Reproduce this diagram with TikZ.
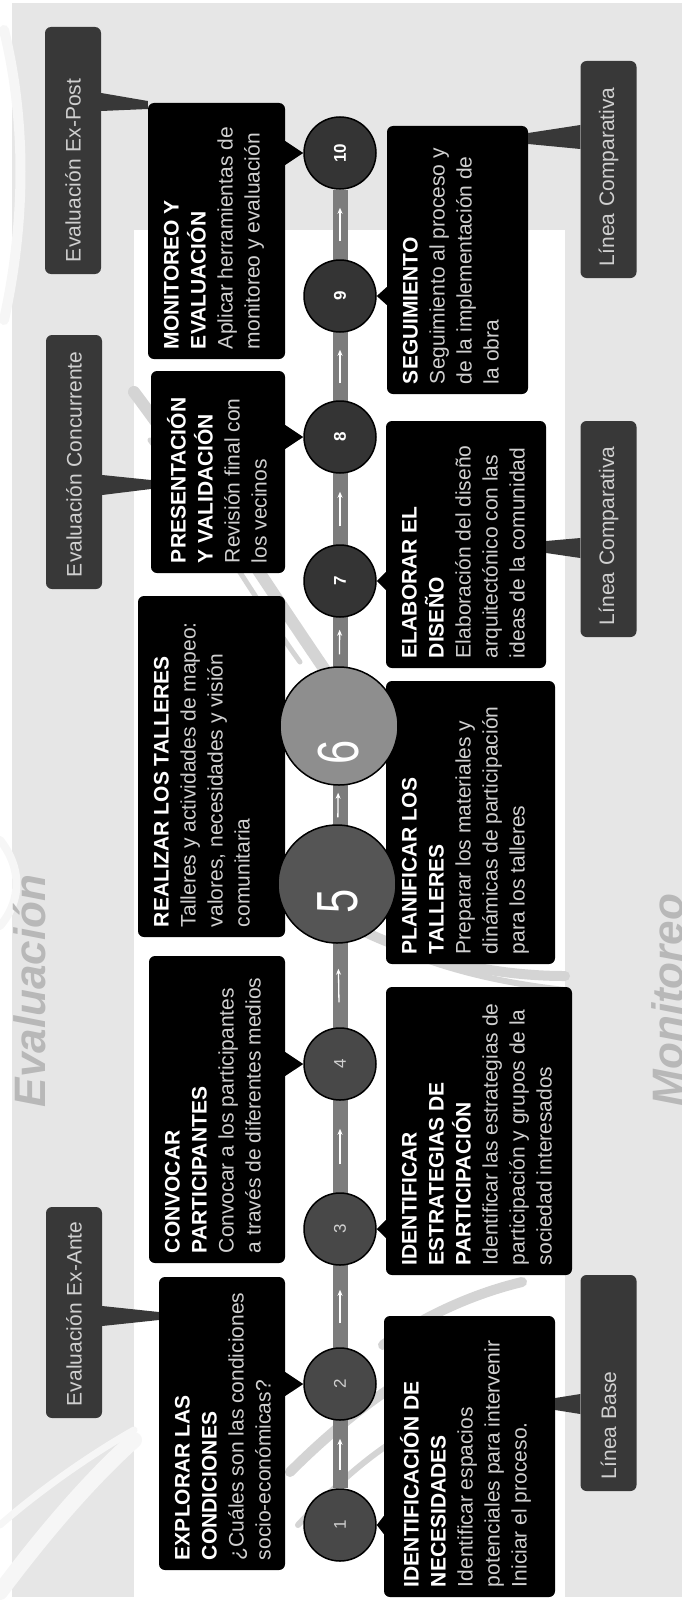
\documentclass[tikz,border=0pt]{standalone}
\usepackage{fontspec}
\setmainfont{Liberation Sans}
\usetikzlibrary{arrows.meta, calc}
\pgfdeclarelayer{back}
\pgfsetlayers{back,main}

\definecolor{bggray}{HTML}{E6E6E6}
\definecolor{labelgray}{HTML}{383838}
\definecolor{labeltext}{HTML}{D0D0D0}
\definecolor{bodytext}{HTML}{D0D0D0}
\definecolor{dotdark}{HTML}{343434}
\definecolor{dotgray}{HTML}{484848}
\definecolor{fivegray}{HTML}{555555}
\definecolor{sixgray}{HTML}{8E8E8E}
\definecolor{bargray}{HTML}{7C7C7C}
\definecolor{markgray}{HTML}{B8B8B8}
\definecolor{swirlgray}{HTML}{D4D4D4}
\definecolor{swirlwhite}{HTML}{F6F6F6}

\begin{document}
\begin{tikzpicture}[x=1pt, y=-1pt,
    stepbox/.style={rotate=90, fill=black, rounded corners=6pt, inner xsep=10pt, inner ysep=16pt, text=white, font=\fontsize{21}{27}\selectfont},
    labelbox/.style={rotate=90, fill=labelgray, rounded corners=6pt, text=labeltext, minimum height=56pt, inner xsep=12pt, inner ysep=0pt, align=left, font=\fontsize{21}{25}\selectfont},
    stepdot/.style={circle, draw=black, line width=1.5pt, fill=dotdark, minimum size=72pt, inner sep=0pt, rotate=90, text=white, font=\fontsize{17}{17}\selectfont\bfseries},
    firstdot/.style={stepdot, fill=dotgray, text=labeltext, font=\fontsize{17}{17}\selectfont},
    bigdot/.style={stepdot, minimum size=118pt},
    bignum/.style={rotate=90, xscale=0.75, text=white, inner sep=0pt, font=\fontsize{58}{58}\selectfont},
    link/.style={fill=labelgray},
    pointer/.style={fill=black},
    timeline/.style={draw=bargray, line width=15pt},
    flow/.style={draw=white, line width=1.3pt, -{Stealth[length=6pt, width=5pt]}},
    watermark/.style={rotate=90, text=markgray, inner sep=0pt, font=\fontsize{44}{44}\selectfont\bfseries\itshape},
    swirl/.style={draw=swirlgray, line cap=round},
    paleswirl/.style={draw=swirlwhite, line cap=round}]

  \useasboundingbox (0,0) rectangle (682,1600);

  \begin{pgfonlayer}{back}
    \fill[bggray] (12,3) rectangle (682,1597);
    \fill[white] (134,230) rectangle (565,1597);
    % brush strokes of the logo
    \draw[paleswirl, line width=10pt] (4,30) .. controls (26,120) and (26,220) .. (4,320);
    \draw[paleswirl, line width=8pt] (0,840) .. controls (22,868) and (22,900) .. (0,926);
    \draw[paleswirl, line width=16pt] (0,1592) .. controls (50,1525) and (95,1475) .. (134,1440);
    \draw[paleswirl, line width=7pt] (0,1525) .. controls (40,1490) and (90,1455) .. (134,1430);
    \draw[swirl, line width=12pt] (134,392) .. controls (200,480) and (270,590) .. (340,692);
    \draw[swirl, line width=5pt] (150,440) .. controls (210,520) and (255,600) .. (300,662);
    \draw[swirl, line width=10pt] (345,922) .. controls (420,962) and (500,976) .. (565,976);
    \draw[swirl, line width=6pt] (400,950) .. controls (460,975) and (520,985) .. (565,990);
    \draw[swirl, line width=10pt] (383,1345) .. controls (430,1312) and (480,1292) .. (522,1282);
    \draw[swirl, line width=10pt] (290,1472) .. controls (330,1432) and (368,1402) .. (400,1382);
    \draw[swirl, line width=6pt] (298,1525) .. controls (335,1485) and (365,1460) .. (392,1442);
  \end{pgfonlayer}

  \node[watermark] (wev) at (30,991) {Evaluación};
  \node[watermark] (wmo) at (668,1000) {Monitoreo};

  \node[labelbox, text width=223pt] (ep) at (73,150.5) {Evaluación Ex-Post};
  \node[labelbox, text width=230pt] (ec) at (74,462) {Evaluación Concurrente};
  \node[labelbox, text width=187pt] (ea) at (74,1312.5) {Evaluación Ex-Ante};
  \node[labelbox, text width=193pt] (lc1) at (608.5,169.5) {Línea Comparativa};
  \node[labelbox, text width=192pt] (lc2) at (608.5,529) {Línea Comparativa};
  \node[labelbox, text width=192pt] (lb) at (608.5,1383) {Línea Base};

  \node[stepbox] (s10) at (216.5,231) {\parbox[t][105pt][t]{236pt}{\raggedright
    \textbf{MONITOREO Y\\EVALUACIÓN}\\\color{bodytext}Aplicar herramientas de\\monitoreo y evaluación}};
  \node[stepbox] (s9) at (457.5,260) {\parbox[t][109pt][t]{248pt}{\raggedright
    \textbf{SEGUIMIENTO}\\\color{bodytext}Seguimiento al proceso y\\de la implementación de\\la obra}};
  \node[stepbox] (s8) at (218,472) {\parbox[t][102pt][t]{182pt}{\raggedright
    \textbf{PRESENTACIÓN\\Y VALIDACIÓN}\\\color{bodytext}Revisión final con\\los vecinos}};
  \node[stepbox] (s7) at (466,544.5) {\parbox[t][128pt][t]{227pt}{\raggedright
    \textbf{ELABORAR EL\\DISEÑO}\\\color{bodytext}Elaboración del diseño\\arquitectónico con las\\ideas de la comunidad}};
  \node[stepbox] (s6) at (211.5,766.5) {\parbox[t][115pt][t]{321pt}{\raggedright
    \textbf{REALIZAR LOS TALLERES}\\\color{bodytext}Talleres y actividades de mapeo:\\valores, necesidades y visión\\comunitaria}};
  \node[stepbox] (s5) at (470.5,822.5) {\parbox[t][137pt][t]{263pt}{\raggedright
    \textbf{PLANIFICAR LOS\\TALLERES}\\\color{bodytext}Preparar los materiales y\\dinámicas de participación\\para los talleres}};
  \node[stepbox] (s4) at (217,1109.5) {\parbox[t][104pt][t]{287pt}{\raggedright
    \textbf{CONVOCAR\\PARTICIPANTES}\\\color{bodytext}Convocar a los participantes\\a través de diferentes medios}};
  \node[stepbox] (s3) at (479,1131) {\parbox[t][154pt][t]{268pt}{\raggedright
    \textbf{IDENTIFICAR\\ESTRATEGIAS DE\\PARTICIPACIÓN}\\\color{bodytext}Identificar las estrategias de\\participación y grupos de la\\sociedad interesados}};
  \node[stepbox] (s2) at (222,1423.5) {\parbox[t][94pt][t]{273pt}{\raggedright
    \textbf{EXPLORAR LAS\\CONDICIONES}\\\color{bodytext}¿Cuáles son las condiciones\\socio-económicas?}};
  \node[stepbox] (s1) at (469.5,1456.5) {\parbox[t][139pt][t]{261pt}{\raggedright
    \textbf{IDENTIFICACIÓN DE\\NECESIDADES}\\\color{bodytext}Identificar espacios\\potenciales para intervenir\\Iniciar el proceso.}};

  \fill[link] (ep.south |- 0,93) -- (s10.north |- 0,101) -- (s10.north |- 0,109) -- (ep.south |- 0,111) -- cycle;
  \fill[link] (ec.south |- 0,475) -- (s8.north |- 0,480) -- (s8.north |- 0,489) -- (ec.south |- 0,495) -- cycle;
  \fill[link] (ea.south |- 0,1306) -- (s2.north |- 0,1312) -- (s2.north |- 0,1320) -- (ea.south |- 0,1326) -- cycle;
  \fill[link] (lc1.north |- 0,125) -- (s9.south |- 0,133) -- (s9.south |- 0,144) -- (lc1.north |- 0,149) -- cycle;
  \fill[link] (lc2.north |- 0,538) -- (s7.south |- 0,541) -- (s7.south |- 0,553) -- (lc2.north |- 0,558) -- cycle;
  \fill[link] (lb.north |- 0,1394) -- (s1.south |- 0,1398) -- (s1.south |- 0,1410) -- (lb.north |- 0,1414) -- cycle;

  \node[firstdot] (c1) at (340,1525) {1};
  \node[firstdot] (c2) at (340,1384) {2};
  \node[firstdot] (c3) at (340,1229) {3};
  \node[firstdot] (c4) at (340,1064) {4};
  \node[bigdot, fill=fivegray] (c5) at (337,884) {};
  \node[bigdot, fill=sixgray] (c6) at (339,726) {};
  \node[stepdot] (c7) at (340,581) {7};
  \node[stepdot] (c8) at (340,437) {8};
  \node[stepdot] (c9) at (340,296) {9};
  \node[stepdot] (c10) at (340,153) {10};
  \node[bignum] (n5) at (338,901) {5};
  \node[bignum] (n6) at (339,752) {6};

  \begin{pgfonlayer}{back}
    \draw[timeline] (c1) -- (c10);
  \end{pgfonlayer}

  \foreach \a/\b/\s in {1/2/18, 2/3/24, 3/4/28, 4/5/25, 5/6/7, 6/7/12, 7/8/18, 8/9/17, 9/10/18}
    \draw[flow, shorten <=\s pt, shorten >=\s pt] (c\a) -- (c\b);

  \foreach \n in {2,4,8,10}
    \fill[pointer] (c\n.north) -- ($(s\n.south |- c\n)+(0,-12)$) -- ($(s\n.south |- c\n)+(0,12)$) -- cycle;
  \foreach \n in {1,3,7,9}
    \fill[pointer] (c\n.south) -- ($(s\n.north |- c\n)+(0,-9)$) -- ($(s\n.north |- c\n)+(0,9)$) -- cycle;
\end{tikzpicture}
\end{document}
